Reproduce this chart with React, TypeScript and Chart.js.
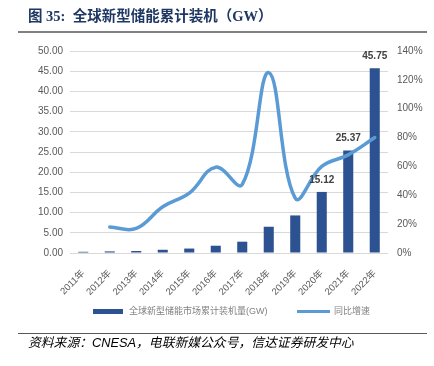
import React, { useEffect, useRef } from "react";
import { Chart, registerables } from "chart.js";

Chart.register(...registerables);

const categories = ["2011年", "2012年", "2013年", "2014年", "2015年", "2016年", "2017年", "2018年", "2019年", "2020年", "2021年", "2022年"];
const capacityGW = [0.3, 0.4, 0.5, 0.8, 1.1, 1.8, 2.8, 6.5, 9.3, 15.12, 25.37, 45.75];
const growthPct = [null, 18, 17, 32, 41.5, 59.5, 47.5, 125, 38, 60, 68, 80];
const labelledBars = [9, 10, 11];
const leftTicks = [0, 5, 10, 15, 20, 25, 30, 35, 40, 45, 50];
const rightTicks = [0, 20, 40, 60, 80, 100, 120, 140];

const titleText = "图 35:  全球新型储能累计装机（GW）";
const sourceText = "资料来源：CNESA，电联新媒公众号，信达证券研发中心";
const barLegend = "全球新型储能市场累计装机量(GW)";
const lineLegend = "同比增速";

const BAR_COLOR = "#2c5291";
const LINE_COLOR = "#5b9bd5";
const TICK_COLOR = "#595959";
const SANS = "'Liberation Sans', 'Noto Sans CJK SC', sans-serif";
const SERIF = "'Liberation Serif', 'Noto Sans CJK SC', serif";

const decorPlugin = {
  id: "decor",
  afterDatasetsDraw(chart: any) {
    const ctx = chart.ctx;
    const meta = chart.getDatasetMeta(0);
    ctx.save();
    ctx.font = `bold 10px ${SANS}`;
    ctx.fillStyle = "#404040";
    ctx.textAlign = "center";
    ctx.textBaseline = "middle";
    labelledBars.forEach((i) => {
      const el = meta.data[i];
      if (!el) return;
      ctx.fillText(capacityGW[i].toFixed(2), el.x, el.y - 12);
    });
    ctx.restore();
  },
  afterDraw(chart: any) {
    const ctx = chart.ctx;
    ctx.save();
    // title
    ctx.font = `bold 14.5px ${SERIF}`;
    ctx.fillStyle = "#1f3763";
    ctx.textAlign = "left";
    ctx.textBaseline = "middle";
    ctx.fillText(titleText, 28, 17);
    ctx.strokeStyle = "#808080";
    ctx.lineWidth = 2;
    ctx.beginPath();
    ctx.moveTo(18, 32);
    ctx.lineTo(427, 32);
    ctx.stroke();
    // legend
    ctx.fillStyle = BAR_COLOR;
    ctx.fillRect(93, 309, 30, 5);
    ctx.strokeStyle = LINE_COLOR;
    ctx.lineWidth = 3;
    ctx.beginPath();
    ctx.moveTo(297, 311.5);
    ctx.lineTo(330, 311.5);
    ctx.stroke();
    ctx.font = `9px ${SANS}`;
    ctx.fillStyle = "#808080";
    ctx.textBaseline = "middle";
    ctx.fillText(barLegend, 129, 311.5);
    ctx.fillText(lineLegend, 334, 311.5);
    // source
    ctx.strokeStyle = "#595959";
    ctx.lineWidth = 1;
    ctx.beginPath();
    ctx.moveTo(18, 333.5);
    ctx.lineTo(427, 333.5);
    ctx.stroke();
    ctx.font = `italic 12.8px ${SANS}`;
    ctx.fillStyle = "#000000";
    ctx.fillText(sourceText, 28, 343);
    ctx.restore();
  },
};

export default function App() {
  const ref = useRef<HTMLCanvasElement>(null);
  useEffect(() => {
    if (!ref.current) return;
    const chart = new Chart(ref.current, {
      type: "bar",
      data: {
        labels: categories,
        datasets: [
          {
            type: "bar",
            label: barLegend,
            data: capacityGW,
            backgroundColor: BAR_COLOR,
            categoryPercentage: 1,
            barPercentage: 0.38,
            yAxisID: "y",
            order: 1,
          },
          {
            type: "line",
            label: lineLegend,
            data: growthPct as any,
            borderColor: LINE_COLOR,
            borderWidth: 3.5,
            pointRadius: 0,
            tension: 0.4,
            borderCapStyle: "round",
            yAxisID: "y1",
            order: 0,
          } as any,
        ],
      },
      options: {
        responsive: false,
        animation: false,
        devicePixelRatio: 1,
        layout: { padding: { top: 51, left: 0, right: 0, bottom: 0 } },
        plugins: { legend: { display: false }, tooltip: { enabled: false }, title: { display: false } },
        scales: {
          x: {
            offset: true,
            grid: { display: false },
            border: { display: false },
            ticks: {
              color: TICK_COLOR,
              font: { size: 9.5, family: SANS },
              minRotation: 45,
              maxRotation: 45,
              padding: 7,
            },
            afterFit: (s: any) => { s.height = 113; },
          },
          y: {
            position: "left",
            min: 0,
            max: 50,
            afterBuildTicks: (s: any) => { s.ticks = leftTicks.map((v) => ({ value: v })); },
            ticks: {
              color: TICK_COLOR,
              font: { size: 10, family: SANS },
              padding: 7,
              callback: (v: any) => Number(v).toFixed(2),
            },
            grid: { color: "#d9d9d9", drawTicks: false, lineWidth: 1 },
            border: { display: false },
            afterFit: (s: any) => { s.width = 70; },
          },
          y1: {
            position: "right",
            min: 0,
            max: 140,
            afterBuildTicks: (s: any) => { s.ticks = rightTicks.map((v) => ({ value: v })); },
            ticks: {
              color: TICK_COLOR,
              font: { size: 10, family: SANS },
              padding: 9,
              callback: (v: any) => `${v}%`,
            },
            grid: { display: false, drawTicks: false },
            border: { display: false },
            afterFit: (s: any) => { s.width = 46; },
          },
        },
      },
      plugins: [decorPlugin],
    });
    return () => chart.destroy();
  }, []);
  return (
    <div style={{ position: "fixed", left: 0, top: 0, width: 434, height: 366, background: "#fff" }}>
      <canvas ref={ref} width={434} height={366} style={{ display: "block", width: 434, height: 366 }} />
    </div>
  );
}
